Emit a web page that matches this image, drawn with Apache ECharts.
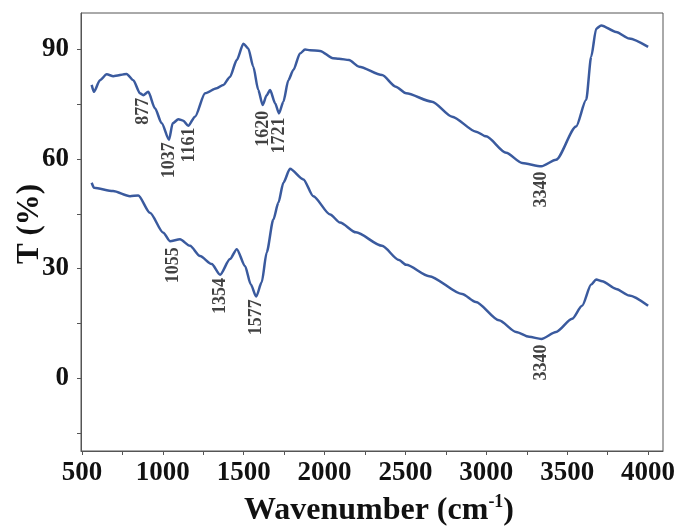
<!DOCTYPE html>
<html>
<head>
<meta charset="utf-8">
<script src="https://cdn.jsdelivr.net/npm/echarts@6/dist/echarts.min.js"></script>
<style>
  html, body { margin: 0; padding: 0; background: #fff; }
  #chart { width: 678px; height: 526px; }
</style>
</head>
<body>
<div id="chart"></div>
<script>
// Upper FTIR spectrum (wavenumber, transmittance %)
const upperWave = [560, 574, 611, 653, 694, 776, 817, 859, 879, 910, 951, 993, 1038, 1061, 1096, 1126, 1157, 1199, 1261, 1333, 1374, 1415, 1457, 1498, 1528, 1559, 1590, 1617, 1642, 1663, 1694, 1718, 1745, 1776, 1807, 1848, 1879, 1910, 1972, 2052, 2089, 2151, 2213, 2355, 2440, 2504, 2664, 2788, 2936, 2998, 3122, 3221, 3340, 3431, 3555, 3617, 3648, 3679, 3710, 3802, 3883, 4000];
const upperT = [80.3, 78.4, 81.6, 83.2, 82.7, 83.3, 81.6, 78.0, 77.5, 78.4, 73.9, 69.8, 65.3, 69.8, 70.9, 70.5, 69.1, 71.6, 78.0, 79.4, 80.3, 82.5, 87.1, 91.6, 90.3, 85.3, 78.9, 74.8, 77.5, 78.9, 75.3, 72.5, 75.7, 81.6, 84.4, 88.9, 90.0, 89.8, 89.6, 87.6, 87.5, 87.1, 85.3, 83.0, 79.8, 78.0, 75.7, 71.6, 67.5, 66.2, 61.7, 58.9, 58.0, 59.8, 68.9, 76.2, 88.0, 95.7, 96.6, 94.8, 93.0, 90.7];

// Lower FTIR spectrum
const lowerWave = [560, 575, 692, 797, 848, 920, 1003, 1044, 1106, 1168, 1230, 1302, 1354, 1415, 1457, 1508, 1543, 1577, 1611, 1642, 1683, 1714, 1745, 1786, 1869, 1930, 2034, 2095, 2194, 2355, 2460, 2504, 2646, 2850, 2935, 3078, 3184, 3264, 3340, 3431, 3530, 3592, 3648, 3679, 3716, 3802, 3883, 4000];
const lowerT = [53.5, 52.1, 51.2, 49.8, 50.0, 45.3, 39.8, 37.5, 38.0, 36.2, 33.4, 31.2, 28.3, 32.6, 35.3, 30.7, 25.7, 22.3, 26.2, 34.4, 43.4, 48.0, 53.5, 57.3, 54.4, 49.8, 44.8, 42.6, 39.9, 36.2, 32.3, 31.0, 27.9, 23.0, 20.8, 15.8, 12.6, 11.3, 10.7, 12.6, 16.2, 19.8, 25.6, 27.0, 26.5, 24.4, 22.6, 19.8];

// Peak annotations (label text, wavenumber, T at label top)
const peakNames = ['877', '1037', '1161', '1620', '1721', '3340', '1055', '1354', '1577', '3340'];
const peakWave = [879, 1040, 1165, 1620, 1721, 3340, 1063, 1354, 1577, 3340];
const peakT = [76.8, 64.6, 68.6, 73.2, 71.4, 56.6, 35.8, 27.4, 21.6, 9.2];

// Axis ticks
const xLabels = [500, 1000, 1500, 2000, 2500, 3000, 3500, 4000];
const xTicks = [500, 750, 1000, 1250, 1500, 1750, 2000, 2250, 2500, 2750, 3000, 3250, 3500, 3750, 4000];
const yLabels = [0, 30, 60, 90];
const yTicks = [-15, 0, 15, 30, 45, 60, 75, 90];

const serif = '"Liberation Serif", "DejaVu Serif", serif';
const axisColor = '#555';
const lineColor = '#3a5a9e';

const chart = echarts.init(document.getElementById('chart'));

const zip = (a, b) => a.map((v, i) => [v, b[i]]);

chart.setOption({
  animation: false,
  backgroundColor: '#fff',
  grid: {
    left: 81, right: 15, top: 13, bottom: 75,
    outerBoundsMode: 'none',
    containLabel: false,
    show: true, borderColor: axisColor, borderWidth: 1
  },
  xAxis: {
    type: 'value',
    min: 494,
    max: 4092,
    name: '{a|Wavenumber (cm}{s|-1}{a|)}',
    nameLocation: 'middle',
    nameGap: 42,
    nameMoveOverlap: false,
    nameTextStyle: {
      padding: [0, 0, 0, 14],
      rich: {
        a: { fontFamily: serif, fontWeight: 'bold', fontSize: 32, color: '#111', lineHeight: 35 },
        s: { fontFamily: serif, fontWeight: 'bold', fontSize: 18, color: '#111', verticalAlign: 'top', lineHeight: 35, padding: [0, 0, 15, 0] }
      }
    },
    axisLine: { show: true, onZero: false, lineStyle: { color: axisColor, width: 1 } },
    axisTick: { show: true, length: 4, customValues: xTicks, lineStyle: { color: axisColor } },
    axisLabel: {
      customValues: xLabels,
      formatter: v => String(v),
      margin: 9,
      fontFamily: serif, fontWeight: 'bold', fontSize: 27, color: '#111'
    },
    splitLine: { show: false }
  },
  yAxis: {
    type: 'value',
    min: -20,
    max: 100,
    name: 'T (%)',
    nameLocation: 'middle',
    nameGap: 36,
    nameMoveOverlap: false,
    nameTextStyle: { fontFamily: serif, fontWeight: 'bold', fontSize: 31, color: '#111', padding: [0, 0, 0, 16] },
    axisLine: { show: true, onZero: false, lineStyle: { color: axisColor, width: 1 } },
    axisTick: { show: true, length: 4, customValues: yTicks, lineStyle: { color: axisColor } },
    axisLabel: {
      customValues: yLabels,
      formatter: v => String(v),
      margin: 12,
      fontFamily: serif, fontWeight: 'bold', fontSize: 27, color: '#111'
    },
    splitLine: { show: false }
  },
  series: [
    {
      type: 'line',
      data: zip(upperWave, upperT),
      showSymbol: false,
      smooth: 0.25,
      smoothMonotone: 'x',
      lineStyle: { color: lineColor, width: 2.5 }
    },
    {
      type: 'line',
      data: zip(lowerWave, lowerT),
      showSymbol: false,
      smooth: 0.25,
      smoothMonotone: 'x',
      lineStyle: { color: lineColor, width: 2.5 }
    },
    {
      type: 'scatter',
      symbolSize: 0,
      data: peakNames.map((n, i) => ({ value: [peakWave[i], peakT[i]], name: n })),
      label: {
        show: true,
        position: 'bottom',
        distance: 0,
        rotate: 90,
        align: 'right',
        verticalAlign: 'middle',
        formatter: p => p.name,
        fontFamily: serif, fontWeight: 'bold', fontSize: 18, color: '#111'
      }
    }
  ]
});
</script>
</body>
</html>
